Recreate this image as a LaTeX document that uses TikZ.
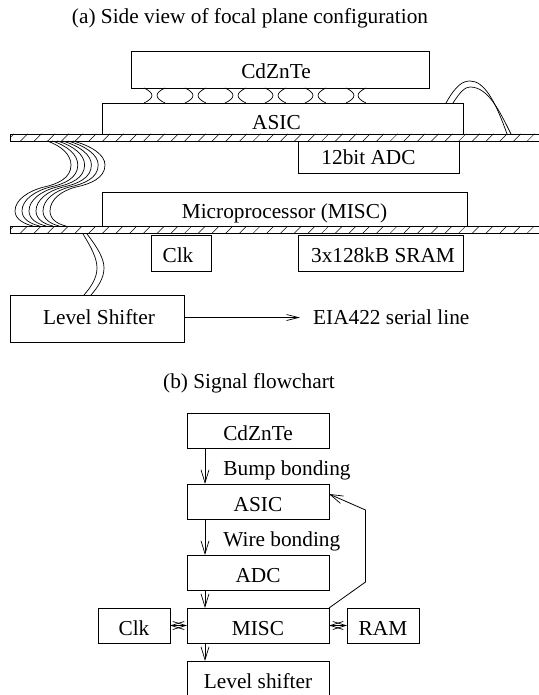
\documentclass[tikz,border=0pt]{standalone}
\usepackage{fontspec}
\setmainfont{Liberation Serif}
\usetikzlibrary{arrows.meta, positioning}

\begin{document}
\begin{tikzpicture}[
  x=1pt, y=-1pt,
  node distance=36pt and 17pt,
  box/.style={rectangle, draw, line width=0.9pt, inner sep=0pt, outer sep=0pt,
              minimum height=35pt, text height=19pt, text depth=0pt,
              font=\fontsize{21.3}{24}\selectfont},
  flow/.style={box, minimum width=142pt},
  side/.style={box, minimum width=72pt},
  txt/.style={inner sep=0pt, font=\fontsize{21.3}{24}\selectfont},
  wire/.style={line width=0.7pt},
  arrow/.style={-{Straight Barb[length=13pt,width=8pt,line width=0.7pt]}, line width=0.8pt},
  both/.style={{Straight Barb[length=13pt,width=8pt,line width=0.7pt]}-{Straight Barb[length=13pt,width=8pt,line width=0.7pt]}, line width=0.8pt},
  bar/.style={rectangle, draw, line width=0.9pt, inner sep=0pt, outer sep=0pt,
              minimum width=540pt, minimum height=7.5pt, path picture={
                \foreach \i in {-21,...,21}
                  \draw[line width=0.5pt] (\i*13.7,4) -- ++(8,-8);
              }}
]
\useasboundingbox (0,0) rectangle (538,695);

% (a) side view
\node[txt, anchor=base] (titlea) at (250,24) {(a) Side view of focal plane configuration};
\node[box, minimum width=298pt, minimum height=37pt, text height=18pt] (cdte) at (280,69.5) {\hspace*{-8pt}CdZnTe};
\node[box, minimum width=361pt, minimum height=31pt, text height=22pt] (asic) at (282.5,118.5) {\hspace*{-12pt}ASIC};
\node[bar, anchor=north west] (bara) at (10,134) {};
\node[box, minimum width=161pt, minimum height=32pt, text height=15pt] (adc) at (378.5,157) {\hspace*{-20pt}12bit ADC};
\node[box, minimum width=365pt, minimum height=34pt] (misc) at (284.5,209) {Microprocessor (MISC)};
\node[bar, anchor=north west] (barb) at (10,226) {};
\node[box, minimum width=60pt, minimum height=36pt, text height=18pt] (clk) at (181,253) {\hspace*{-6pt}Clk};
\node[box, minimum width=165pt, minimum height=36pt, text height=18pt] (sram) at (380.5,253) {\hspace*{5pt}3x128kB SRAM};
\node[box, minimum width=174pt, minimum height=47pt, text height=12pt] (level) at (97,318.5) {\hspace*{4pt}Level Shifter};
\node[txt, anchor=west] (eia) at (313,317.5) {EIA422 serial line};
\draw[-{Straight Barb[length=12pt,width=6pt,line width=0.7pt]}, line width=0.8pt, shorten >=13pt] (level.east |- eia.west) -- (eia.west);

% bumps
\foreach \x in {157,198,238,278,318,358}
  \draw[wire] (\x+8,88) .. controls (\x-2.6,93) and (\x-2.6,98) .. (\x+8,103);
\foreach \x in {152,193,233,273,313,354}
  \draw[wire] (\x-8,88) .. controls (\x+2.6,93) and (\x+2.6,98) .. (\x-8,103);

% bond wires
\draw[wire] (446,103) .. controls (456,85) and (463,81) .. (470,81) .. controls (484,81) and (495,100) .. (507,134);
\draw[wire] (453,103) .. controls (460,92) and (465,87) .. (470,87) .. controls (488,87) and (499,110) .. (511,134);
\foreach \i in {0,...,5}
  \draw[wire] (47+5.2*\i,141) .. controls (62+6*\i,146) and (71+6.8*\i,155) .. (71+6.8*\i,165)
    .. controls (71+6.8*\i,178) and (58+6.5*\i,184) .. (44+6.4*\i,187)
    .. controls (28+6.5*\i,191) and (15+7*\i,200) .. (15+7*\i,211)
    .. controls (15+7*\i,219) and (24+6.6*\i,224) .. (33+6.6*\i,226);
\draw[wire] (83,234) .. controls (91,247) and (97,258) .. (97,268) .. controls (97,278) and (91,287) .. (84,295);
\draw[wire] (87,234) .. controls (97,247) and (104,258) .. (104,268) .. controls (104,278) and (98,287) .. (91,295);

% (b) flowchart
\node[txt, anchor=base] (titleb) at (249,388) {(b) Signal flowchart};
\node[flow] (cdtef) at (258,430.5) {CdZnTe};
\node[flow, below=of cdtef] (asicf) {ASIC};
\node[flow, below=of asicf] (adcf) {ADC};
\node[flow, below=18pt of adcf] (miscf) {MISC};
\node[flow, below=18pt of miscf] (levelf) {Level shifter};
\node[side, left=of miscf] (clkf) {Clk};
\node[side, right=18pt of miscf] (ramf) {RAM};
\coordinate (axis) at (205,0);
\coordinate (tip) at (329,494);
\coordinate (kneea) at (365.5,582);
\coordinate (kneeb) at (365.5,510);

\draw[arrow] (cdtef.south -| axis) -- node[right=18pt, yshift=-4pt, txt]{Bump bonding} (asicf.north -| axis);
\draw[arrow] (asicf.south -| axis) -- node[right=18pt, yshift=-4pt, txt]{Wire bonding} (adcf.north -| axis);
\draw[arrow] (adcf.south -| axis) -- (miscf.north -| axis);
\draw[arrow] (miscf.south -| axis) -- (levelf.north -| axis);
\draw[both] (clkf) -- (miscf);
\draw[both] (miscf) -- (ramf);
\draw[arrow] (miscf.north east) -- (kneea) -- (kneeb) -- (tip);
\end{tikzpicture}
\end{document}
